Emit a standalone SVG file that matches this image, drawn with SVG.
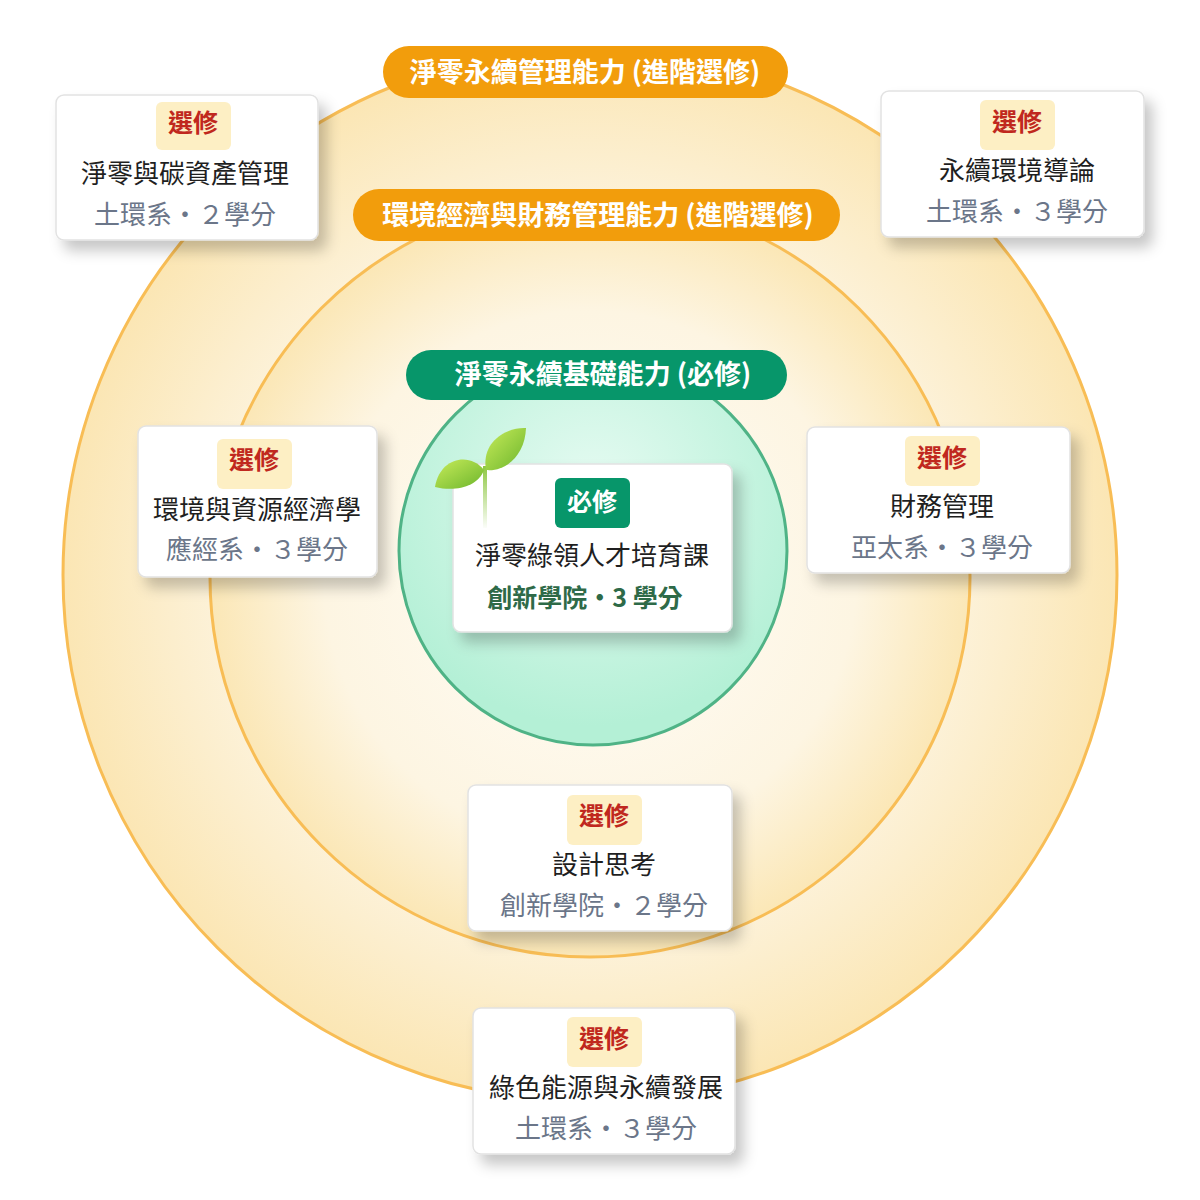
<svg xmlns="http://www.w3.org/2000/svg" width="1200" height="1200" viewBox="0 0 1200 1200">
<defs>
<radialGradient id="gOuter" cx="50%" cy="50%" r="50%"><stop offset="0.6" stop-color="#fdf6e6"/><stop offset="1" stop-color="#fbe6b4"/></radialGradient>
<radialGradient id="gMid" cx="50%" cy="50%" r="50%"><stop offset="0" stop-color="#fffdf8"/><stop offset="0.7" stop-color="#fdf5e2"/><stop offset="1" stop-color="#fbe7b6"/></radialGradient>
<radialGradient id="gIn" cx="50%" cy="35%" r="60%"><stop offset="0" stop-color="#e6fbf2"/><stop offset="1" stop-color="#b4f0d6"/></radialGradient>
<linearGradient id="leaf" x1="0" y1="0" x2="1" y2="1"><stop offset="0" stop-color="#c8ec5a"/><stop offset="1" stop-color="#6cb52c"/></linearGradient>
<linearGradient id="stem" gradientUnits="userSpaceOnUse" x1="0" y1="465" x2="0" y2="530"><stop offset="0" stop-color="#8cc63f"/><stop offset="1" stop-color="#8cc63f" stop-opacity="0"/></linearGradient>
<filter id="sh" x="-20%" y="-20%" width="150%" height="160%"><feDropShadow dx="8" dy="10" stdDeviation="7" flood-color="#000" flood-opacity="0.22"/></filter>
</defs>
<style>
text{font-family:"Noto Sans CJK TC","Noto Sans CJK SC",sans-serif;text-anchor:middle}
.card{fill:#fff;stroke:#e2e2e2;stroke-width:1.5;filter:url(#sh)}
.tag{fill:#fdefc4}
.tagt{fill:#c0281e;font-size:25px;font-weight:700}
.name{fill:#1f1f1f;font-size:26px}
.sub{fill:#6b7689;font-size:26px}
.band{fill:#f29d0c}
.bandt{fill:#fff;font-size:27px;font-weight:700}
</style>
<circle cx="590" cy="575" r="527" fill="url(#gOuter)" stroke="#f8bd55" stroke-width="3"/>
<circle cx="590" cy="577" r="380" fill="url(#gMid)" stroke="#f8bd55" stroke-width="3"/>
<circle cx="593" cy="551" r="194" fill="url(#gIn)" stroke="#4fb386" stroke-width="3"/>
<g id="band-outer"><rect class="band" x="383" y="46" width="405" height="52" rx="26"/><text class="bandt" x="585" y="82">淨零永續管理能力 (進階選修)</text></g>
<g id="band-mid"><rect class="band" x="353" y="189" width="487" height="52" rx="26"/><text class="bandt" x="598" y="225">環境經濟與財務管理能力 (進階選修)</text></g>
<g id="band-in"><rect x="406" y="350" width="381" height="50" rx="25" fill="#07966a"/><text class="bandt" x="603" y="384">淨零永續基礎能力 (必修)</text></g>
<g id="core">
<rect class="card" x="453" y="464" width="279" height="168" rx="8" stroke="none"/>
<rect x="555" y="478" width="75" height="50" rx="6" fill="#07966a"/><text x="592" y="511" fill="#fff" font-size="25" font-weight="700">必修</text>
<text class="name" x="592" y="565">淨零綠領人才培育課</text>
<text x="585" y="607" fill="#2e6a48" font-size="25" font-weight="700">創新學院・3 學分</text>
<path d="M485 528 L485 466" stroke="url(#stem)" stroke-width="4" fill="none"/>
<path d="M484 470 C470 452 440 457 435 487 C455 492 478 487 484 470Z" fill="url(#leaf)"/>
<path d="M486 470 C481 442 506 427 526 428 C525 456 505 472 486 470Z" fill="url(#leaf)"/>
</g>
<g id="c1"><rect class="card" x="56" y="95" width="262" height="145" rx="8"/><rect class="tag" x="156" y="102" width="75" height="48" rx="6"/><text class="tagt" x="193" y="132">選修</text><text class="name" x="185" y="183">淨零與碳資產管理</text><text class="sub" x="185" y="224">土環系・２學分</text></g>
<g id="c2"><rect class="card" x="881" y="91" width="263" height="146" rx="8"/><rect class="tag" x="980" y="100" width="75" height="50" rx="6"/><text class="tagt" x="1017" y="131">選修</text><text class="name" x="1017" y="180">永續環境導論</text><text class="sub" x="1017" y="221">土環系・３學分</text></g>
<g id="c3"><rect class="card" x="138" y="426" width="239" height="151" rx="8"/><rect class="tag" x="217" y="439" width="75" height="50" rx="6"/><text class="tagt" x="254" y="469">選修</text><text class="name" x="257" y="519">環境與資源經濟學</text><text class="sub" x="257" y="559">應經系・３學分</text></g>
<g id="c4"><rect class="card" x="807" y="427" width="263" height="146" rx="8"/><rect class="tag" x="905" y="436" width="75" height="50" rx="6"/><text class="tagt" x="942" y="467">選修</text><text class="name" x="942" y="516">財務管理</text><text class="sub" x="942" y="557">亞太系・３學分</text></g>
<g id="c5"><rect class="card" x="468" y="785" width="264" height="146" rx="8"/><rect class="tag" x="567" y="795" width="75" height="50" rx="6"/><text class="tagt" x="604" y="825">選修</text><text class="name" x="604" y="874">設計思考</text><text class="sub" x="604" y="915">創新學院・２學分</text></g>
<g id="c6"><rect class="card" x="473" y="1008" width="262" height="146" rx="8"/><rect class="tag" x="567" y="1017" width="75" height="50" rx="6"/><text class="tagt" x="604" y="1048">選修</text><text class="name" x="606" y="1097">綠色能源與永續發展</text><text class="sub" x="606" y="1138">土環系・３學分</text></g>
<g id="connectors"/>
</svg>
